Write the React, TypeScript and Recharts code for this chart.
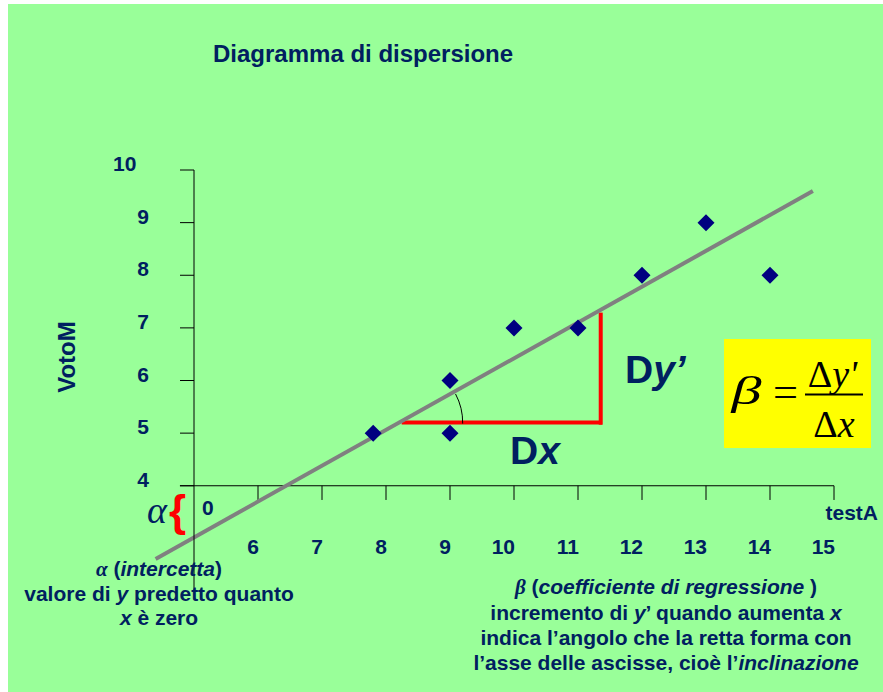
import {
  ScatterChart,
  Scatter,
  XAxis,
  YAxis,
  ReferenceLine,
  ReferenceDot,
} from "recharts";

const xTicks = [6, 7, 8, 9, 10, 11, 12, 13, 14, 15];
const yTicks = [4, 5, 6, 7, 8, 9, 10];

const testA = [7.8, 9, 9, 10, 11, 12, 13, 14];
const votoM = [5, 6, 5, 7, 7, 8, 9, 8];

// retta di regressione (estremi)
const trendStart = { x: 4.4, y: 2.61 };
const trendEnd = { x: 14.67, y: 9.6 };

// triangolo Dx / Dy'
const dxStart = { x: 8.245, y: 5.2 };
const dxEnd = { x: 11.375, y: 5.2 };
const dyStart = { x: 11.355, y: 5.16 };
const dyEnd = { x: 11.355, y: 7.29 };

const points = testA.map((x, i) => ({ x, y: votoM[i] }));

const NAVY = "#002060";
const SANS = "'Liberation Sans', Arial, sans-serif";
const SERIF = "'Liberation Serif', 'Times New Roman', serif";

if (typeof document !== "undefined") {
  document.body.style.margin = "0";
  document.documentElement.style.overflow = "hidden";
}

const Diamond = ({ cx, cy }: any) => (
  <path
    d={`M${cx},${cy - 8.5}L${cx + 8.5},${cy}L${cx},${cy + 8.5}L${cx - 8.5},${cy}Z`}
    fill="#000080"
  />
);

const AngleArc = ({ cx, cy }: any) => {
  const r = 61;
  const a = (28 * Math.PI) / 180;
  return (
    <path
      d={`M${cx + r * Math.cos(a)},${cy - r * Math.sin(a)} A${r},${r} 0 0 1 ${cx + r},${cy + 1}`}
      fill="none"
      stroke="#000"
      strokeWidth={1}
    />
  );
};

const XTick = ({ x, y, payload }: any) => (
  <text
    x={x + 1}
    y={y - 37}
    textAnchor="end"
    fontFamily={SANS}
    fontWeight="bold"
    fontSize={21}
    fill={NAVY}
  >
    {payload.value}
  </text>
);

const YTick = ({ x, y, payload }: any) => (
  <text
    x={x}
    y={y + 1}
    dx={payload.value === 10 ? -12.6 : 0}
    textAnchor="end"
    fontFamily={SANS}
    fontWeight="bold"
    fontSize={21}
    fill={NAVY}
  >
    {payload.value}
  </text>
);

const Overlay = () => (
  <svg
    width={875}
    height={688}
    style={{ position: "absolute", left: 0, top: 0, pointerEvents: "none" }}
    fontFamily={SANS}
    fontWeight="bold"
    fill={NAVY}
  >
    <text x={205} y={58} fontSize={24}>
      Diagramma di dispersione
    </text>
    <text transform="translate(67,353) rotate(-90)" textAnchor="middle" fontSize={24}>
      VotoM
    </text>

    <text x={194} y={511} fontSize={21}>0</text>
    <text x={139} y={519} fontFamily={SERIF} fontStyle="italic" fontWeight="normal" fontSize={38}>
      α
    </text>
    <text x={161} y={522} fontSize={44} fill="#FF0000">
      {"{"}
    </text>
    <text x={870} y={516} textAnchor="end" fontSize={21}>
      testA
    </text>

    <text x={617} y={379} fontSize={39}>
      D<tspan fontStyle="italic">y’</tspan>
    </text>
    <text x={502} y={460} fontSize={39}>
      D<tspan fontStyle="italic">x</tspan>
    </text>

    <rect x={716} y={335} width={147} height={109} fill="#FFFF00" />
    <g fontFamily={SERIF} fontWeight="normal" fill="#000" fontSize={38}>
      <text
        x={723.5}
        y={400}
        fontStyle="italic"
        fontSize={40}
        textLength={30}
        lengthAdjust="spacingAndGlyphs"
      >
        β
      </text>
      <text x={765} y={402} fontSize={42} textLength={25} lengthAdjust="spacingAndGlyphs">
        =
      </text>
      <line x1={797} x2={855} y1={390.5} y2={390.5} stroke="#000" strokeWidth={2} />
      <text x={824.5} y={382.7} textAnchor="middle">
        Δ<tspan fontStyle="italic">y'</tspan>
      </text>
      <text x={826} y={432.7} textAnchor="middle">
        Δ<tspan fontStyle="italic">x</tspan>
      </text>
    </g>

    <g fontSize={21} textAnchor="middle">
      <text x={151} y={572}>
        <tspan fontFamily={SERIF} fontStyle="italic">α</tspan> (
        <tspan fontStyle="italic">intercetta</tspan>)
      </text>
      <text x={151} y={597}>
        valore di <tspan fontStyle="italic">y</tspan> predetto quanto
      </text>
      <text x={151} y={621}>
        <tspan fontStyle="italic">x</tspan> è zero
      </text>

      <text x={658} y={590}>
        <tspan fontFamily={SERIF} fontStyle="italic">β</tspan> (
        <tspan fontStyle="italic">coefficiente di regressione</tspan> )
      </text>
      <text x={658} y={616}>
        incremento di <tspan fontStyle="italic">y</tspan>’ quando aumenta{" "}
        <tspan fontStyle="italic">x</tspan>
      </text>
      <text x={658} y={641}>
        indica l’angolo che la retta forma con
      </text>
      <text x={658} y={666}>
        l’asse delle ascisse, cioè l’<tspan fontStyle="italic">inclinazione</tspan>
      </text>
    </g>
  </svg>
);

export default function App() {
  return (
    <div style={{ width: 883, height: 692, boxSizing: "border-box", padding: "4px 0 0 8px", overflow: "hidden" }}>
      <div
        style={{
          position: "relative",
          width: 875,
          height: 688,
          background: "#99FF99",
        }}
      >
        <ScatterChart
          width={875}
          height={688}
          margin={{ top: 166, right: 49, bottom: 71, left: 126 }}
        >
          <XAxis
            type="number"
            dataKey="x"
            domain={[5, 15]}
            ticks={xTicks}
            allowDataOverflow
            height={30}
            axisLine={false}
            tickLine={false}
            tickSize={0}
            tickMargin={0}
            tick={<XTick />}
          />
          <YAxis
            type="number"
            dataKey="y"
            domain={[2, 10]}
            ticks={yTicks}
            allowDataOverflow
            width={60}
            tickSize={14}
            tickMargin={31}
            axisLine={{ stroke: "#000", strokeWidth: 1 }}
            tickLine={{ stroke: "#000", strokeWidth: 1 }}
            tick={<YTick />}
          />
          <ReferenceLine
            segment={[{ x: 4.78, y: 4 }, { x: 15, y: 4 }]}
            stroke="#000"
            strokeWidth={1}
            ifOverflow="visible"
          />
          {xTicks.map((t) => (
            <ReferenceLine
              key={t}
              segment={[{ x: t, y: 4 }, { x: t, y: 3.73 }]}
              stroke="#000"
              strokeWidth={1}
              ifOverflow="visible"
            />
          ))}
          <Scatter data={points} shape={<Diamond />} isAnimationActive={false} />
          <ReferenceLine
            segment={[dxStart, dxEnd]}
            stroke="#FF0000"
            strokeWidth={4}
            ifOverflow="visible"
          />
          <ReferenceLine
            segment={[dyStart, dyEnd]}
            stroke="#FF0000"
            strokeWidth={4}
            ifOverflow="visible"
          />
          <ReferenceLine
            segment={[trendStart, trendEnd]}
            stroke="#808080"
            strokeWidth={4}
            ifOverflow="visible"
          />
          <ReferenceDot
            x={dxStart.x}
            y={dxStart.y}
            r={0}
            ifOverflow="visible"
            shape={<AngleArc />}
          />
        </ScatterChart>
        <Overlay />
      </div>
    </div>
  );
}
